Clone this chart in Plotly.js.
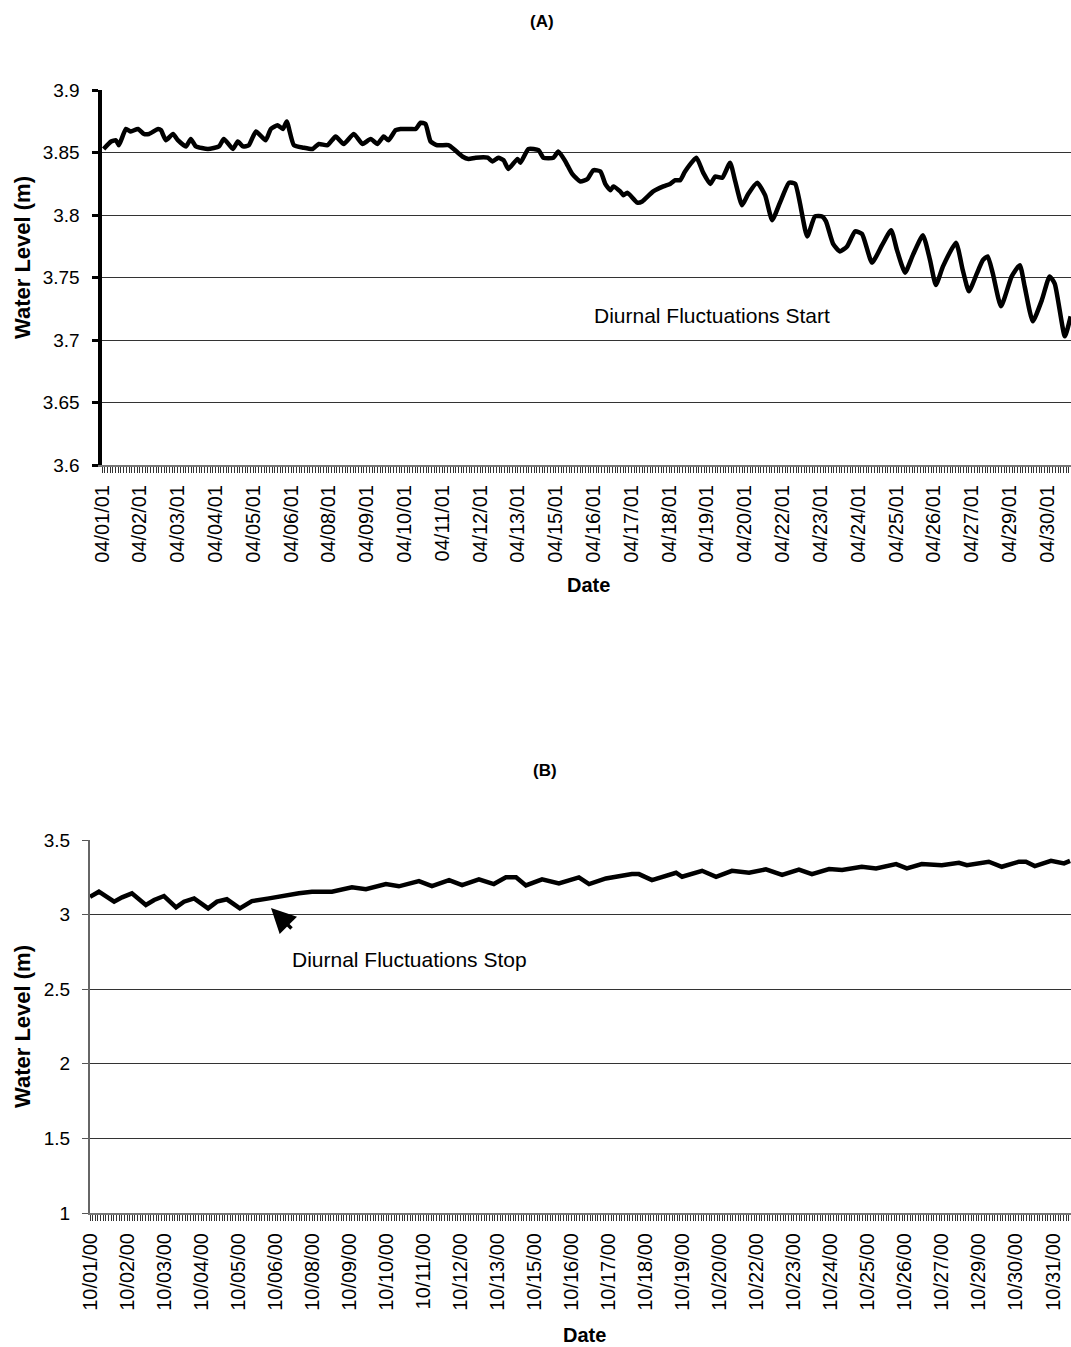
<!DOCTYPE html>
<html>
<head>
<meta charset="utf-8">
<script src="https://cdn.plot.ly/plotly-3.0.1.min.js"></script>
<style>html,body{margin:0;padding:0;background:#fff;}#chart{width:1071px;height:1347px;}</style>
</head>
<body>
<div id="chart"></div>
<script>
// (A) April 2001 — elapsed days since 04/01/01 00:00 and water level (m)
const daysA = [0.05,0.28,0.43,0.52,0.74,0.89,1.11,1.29,1.45,1.73,1.82,1.97,2.19,2.34,2.59,2.74,2.90,3.27,3.61,3.76,
  4.04,4.19,4.35,4.53,4.75,5.05,5.21,5.42,5.58,5.70,5.92,6.22,6.50,6.69,6.96,7.21,7.46,7.77,8.04,8.29,
  8.50,8.69,8.84,9.06,9.21,9.52,9.68,9.83,9.98,10.14,10.35,10.69,10.85,11.12,11.31,11.53,11.90,12.05,12.23,12.39,
  12.54,12.82,12.91,13.16,13.47,13.62,13.93,14.08,14.30,14.51,14.76,14.98,15.16,15.38,15.53,15.69,15.78,15.99,16.09,16.21,
  16.52,16.67,17.01,17.32,17.53,17.69,17.84,17.99,18.34,18.55,18.77,18.92,19.14,19.38,19.54,19.75,19.94,20.22,20.46,20.68,
  20.92,21.20,21.39,21.76,22.00,22.22,22.34,22.56,22.77,22.99,23.24,23.45,23.76,24.07,24.35,24.53,24.78,25.02,25.33,25.55,
  25.73,25.95,26.35,26.56,26.75,26.99,27.18,27.33,27.49,27.74,28.07,28.32,28.47,28.72,29.00,29.24,29.40,29.71,29.89];
const levelA = [3.853,3.859,3.860,3.856,3.869,3.867,3.869,3.865,3.865,3.869,3.868,3.860,3.865,3.860,3.855,3.861,3.855,3.853,3.855,3.861,
  3.853,3.859,3.855,3.856,3.867,3.860,3.869,3.872,3.869,3.875,3.856,3.854,3.853,3.857,3.856,3.863,3.857,3.865,3.857,3.861,
  3.857,3.863,3.860,3.868,3.869,3.869,3.869,3.874,3.873,3.859,3.856,3.856,3.853,3.847,3.845,3.846,3.846,3.843,3.846,3.844,
  3.837,3.845,3.842,3.853,3.852,3.846,3.846,3.851,3.843,3.833,3.827,3.829,3.836,3.835,3.825,3.820,3.823,3.819,3.816,3.818,
  3.810,3.811,3.819,3.823,3.825,3.828,3.828,3.835,3.846,3.834,3.825,3.831,3.830,3.842,3.827,3.808,3.817,3.826,3.816,3.796,
  3.810,3.826,3.825,3.783,3.799,3.799,3.795,3.777,3.771,3.775,3.787,3.785,3.762,3.776,3.788,3.772,3.754,3.768,3.784,3.764,
  3.744,3.759,3.778,3.756,3.739,3.753,3.764,3.767,3.753,3.727,3.751,3.760,3.743,3.715,3.732,3.751,3.745,3.703,3.719];
const labelsA = ['04/01/01','04/02/01','04/03/01','04/04/01','04/05/01','04/06/01','04/08/01','04/09/01','04/10/01','04/11/01',
  '04/12/01','04/13/01','04/15/01','04/16/01','04/17/01','04/18/01','04/19/01','04/20/01','04/22/01','04/23/01',
  '04/24/01','04/25/01','04/26/01','04/27/01','04/29/01','04/30/01'];

// (B) October 2000 — elapsed days since 10/01/00 00:00 and water level (m)
const daysB = [0,0.28,0.76,1.01,1.32,1.76,2.02,2.33,2.71,2.96,3.28,3.72,4.00,4.31,4.72,5.10,5.64,6.05,6.58,6.99,
  7.62,8.25,8.69,9.32,9.73,10.36,10.77,11.31,11.72,12.25,12.72,13.10,13.42,13.73,14.24,14.77,15.40,15.72,16.25,17.07,
  17.29,17.70,18.46,18.65,19.28,19.72,20.22,20.76,21.29,21.80,22.33,22.74,23.28,23.69,24.31,24.76,25.39,25.73,26.20,26.83,
  27.37,27.62,28.31,28.72,29.26,29.48,29.76,30.27,30.68,30.87];
const levelB = [3.120,3.154,3.087,3.116,3.143,3.065,3.098,3.125,3.049,3.087,3.109,3.042,3.087,3.103,3.042,3.091,3.109,3.125,3.143,3.154,
  3.154,3.183,3.170,3.205,3.190,3.225,3.192,3.232,3.198,3.237,3.205,3.250,3.250,3.196,3.237,3.210,3.250,3.205,3.243,3.272,
  3.272,3.232,3.281,3.254,3.294,3.254,3.294,3.281,3.304,3.266,3.302,3.272,3.306,3.299,3.321,3.310,3.339,3.310,3.339,3.332,
  3.348,3.332,3.355,3.321,3.355,3.355,3.326,3.361,3.344,3.361];
const labelsB = ['10/01/00','10/02/00','10/03/00','10/04/00','10/05/00','10/06/00','10/08/00','10/09/00','10/10/00','10/11/00',
  '10/12/00','10/13/00','10/15/00','10/16/00','10/17/00','10/18/00','10/19/00','10/20/00','10/22/00','10/23/00',
  '10/24/00','10/25/00','10/26/00','10/27/00','10/29/00','10/30/00','10/31/00'];

const W = 1071, H = 1347;
const px = v => v / W, py = v => 1 - v / H;

// category-style ticks: a small mark every 2 h, a date label every 28 h
function buildTicks(labels, maxDay) {
  const vals = [], text = [];
  for (let k = 0; k / 12 <= maxDay; k++) {
    vals.push(k / 12);
    text.push(k % 14 === 0 && labels[k / 14] !== undefined ? labels[k / 14] : '');
  }
  return {vals, text};
}
const tA = buildTicks(labelsA, 30);
const tB = buildTicks(labelsB, 31);

const FONT = 'Liberation Sans, Arial, sans-serif';

const traces = [
  {x: daysA, y: levelA, xaxis: 'x', yaxis: 'y', type: 'scatter', mode: 'lines',
   line: {color: '#000', width: 4.5, shape: 'spline', smoothing: 0.5}, hoverinfo: 'skip'},
  {x: daysB, y: levelB, xaxis: 'x2', yaxis: 'y2', type: 'scatter', mode: 'lines',
   line: {color: '#000', width: 4.5}, hoverinfo: 'skip'}
];

const xCommon = {
  tickmode: 'array', tickangle: -90, ticks: 'outside', ticklen: 6, tickwidth: 1, tickcolor: '#333',
  tickfont: {family: FONT, size: 20, color: '#000'}, ticklabelstandoff: 4,
  showgrid: false, zeroline: false, showline: true, linecolor: '#777', linewidth: 2, fixedrange: true
};

const layout = {
  width: W, height: H,
  margin: {l: 0, r: 0, t: 0, b: 0},
  paper_bgcolor: '#fff', plot_bgcolor: '#fff',
  showlegend: false,
  font: {family: FONT, color: '#000'},
  xaxis: Object.assign({}, xCommon, {domain: [px(102), 1], range: [0, 29.9], anchor: 'y',
    tickvals: tA.vals, ticktext: tA.text}),
  yaxis: {domain: [py(465), py(90)], range: [3.6, 3.9002], anchor: 'x', tick0: 3.6, dtick: 0.05,
    ticks: 'outside', ticklen: 6, tickwidth: 3, tickcolor: '#000', ticklabelstandoff: 8,
    tickfont: {family: FONT, size: 19, color: '#000'},
    showline: true, linecolor: '#000', linewidth: 4.5, zeroline: false,
    showgrid: true, gridcolor: '#333', gridwidth: 1, fixedrange: true},
  xaxis2: Object.assign({}, xCommon, {domain: [px(90), 1], range: [0, 30.9], anchor: 'y2',
    tickvals: tB.vals, ticktext: tB.text}),
  yaxis2: {domain: [py(1213), py(840)], range: [1, 3.5005], anchor: 'x2', tick0: 1, dtick: 0.5,
    ticks: 'outside', ticklen: 6, tickwidth: 1, tickcolor: '#555', ticklabelstandoff: 8,
    tickfont: {family: FONT, size: 19, color: '#000'},
    showline: true, linecolor: '#666', linewidth: 2, zeroline: false,
    showgrid: true, gridcolor: '#333', gridwidth: 1, fixedrange: true},
  annotations: [
    {text: '<b>(A)</b>', xref: 'paper', yref: 'paper', x: px(542), y: py(22), showarrow: false,
     xanchor: 'center', yanchor: 'middle', font: {size: 17}},
    {text: '<b>(B)</b>', xref: 'paper', yref: 'paper', x: px(545), y: py(770), showarrow: false,
     xanchor: 'center', yanchor: 'middle', font: {size: 17}},
    {text: '<b>Date</b>', xref: 'paper', yref: 'paper', x: px(588), y: py(585), showarrow: false,
     xanchor: 'center', yanchor: 'middle', font: {size: 20}},
    {text: '<b>Date</b>', xref: 'paper', yref: 'paper', x: px(585), y: py(1335), showarrow: false,
     xanchor: 'center', yanchor: 'middle', font: {size: 20}},
    {text: '<b>Water Level (m)</b>', xref: 'paper', yref: 'paper', x: px(22), y: py(258), showarrow: false,
     textangle: -90, xanchor: 'center', yanchor: 'middle', font: {size: 22}},
    {text: '<b>Water Level (m)</b>', xref: 'paper', yref: 'paper', x: px(22), y: py(1027), showarrow: false,
     textangle: -90, xanchor: 'center', yanchor: 'middle', font: {size: 22}},
    {text: 'Diurnal Fluctuations Start', xref: 'paper', yref: 'paper', x: px(712), y: py(316), showarrow: false,
     xanchor: 'center', yanchor: 'middle', font: {size: 21}},
    {text: 'Diurnal Fluctuations Stop', xref: 'paper', yref: 'paper', x: px(409), y: py(959), showarrow: false,
     xanchor: 'center', yanchor: 'middle', font: {size: 21}},
    {text: '', xref: 'paper', yref: 'paper', x: px(271), y: py(908), showarrow: true,
     ax: 22, ay: 22, arrowhead: 2, arrowsize: 1.4, arrowwidth: 3.5, arrowcolor: '#000', standoff: 0}
  ]
};

Plotly.newPlot('chart', traces, layout, {staticPlot: true, displayModeBar: false});
</script>
</body>
</html>
